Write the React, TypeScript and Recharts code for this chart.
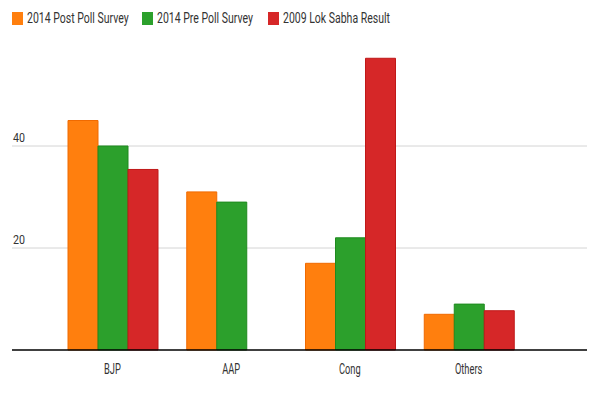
import { BarChart, Bar, XAxis, YAxis, CartesianGrid } from 'recharts';

const parties = ['BJP', 'AAP', 'Cong', 'Others'];
const postPoll2014 = [45, 31, 17, 7];
const prePoll2014 = [40, 29, 22, 9];
const result2009 = [35.4, 0, 57.2, 7.7];
const yTicks = [20, 40];

const series = [
  { key: 'post', name: '2014 Post Poll Survey', fill: '#ff7f0e', stroke: '#f06a00' },
  { key: 'pre', name: '2014 Pre Poll Survey', fill: '#2ca02c', stroke: '#1f8a1f' },
  { key: 'lok', name: '2009 Lok Sabha Result', fill: '#d62728', stroke: '#c01818' },
];

const data = parties.map((party, i) => ({
  party,
  post: postPoll2014[i],
  pre: prePoll2014[i],
  lok: result2009[i] || null,
}));

const font = 'Roboto, "Liberation Sans", sans-serif';

function YTick(props: any) {
  const { y, payload } = props;
  return (
    <g transform={`translate(13,${y - 4.5})`}>
      <text x={0} y={0} transform="scale(0.82,1)" fill="#333" fontSize={13} fontFamily={font}>
        {payload.value}
      </text>
    </g>
  );
}

function XTick(props: any) {
  const { x, payload } = props;
  return (
    <g transform={`translate(${x - 1},374)`}>
      <text x={0} y={0} transform="scale(0.62,1)" textAnchor="middle" fill="#333" fontSize={15} fontFamily={font}>
        {payload.value}
      </text>
    </g>
  );
}

export default function App() {
  return (
    <div style={{ position: 'absolute', left: 0, top: 0, width: 600, height: 400, background: '#fff' }}>
      <div style={{ position: 'absolute', left: 12, top: 10, display: 'flex', fontFamily: font, fontSize: 14, color: '#333' }}>
        {series.map((s, i) => (
          <div key={s.key} style={{ display: 'flex', alignItems: 'center', width: i === 0 ? 130 : 126 }}>
            <span style={{ width: 11, height: 13, background: s.fill, display: 'inline-block', marginRight: 4, flex: 'none' }} />
            <span style={{ display: 'inline-block', transform: 'scaleX(0.75)', transformOrigin: 'left center', whiteSpace: 'nowrap' }}>{s.name}</span>
          </div>
        ))}
      </div>
      <BarChart
        width={600}
        height={400}
        data={data}
        margin={{ top: 44, right: 13, bottom: 0, left: 12 }}
        barGap={0}
        barCategoryGap={14}
      >
        <CartesianGrid vertical={false} stroke="#d4d4d4" horizontalValues={yTicks} />
        <YAxis
          width={1}
          mirror
          domain={[0, 60]}
          ticks={yTicks}
          axisLine={false}
          tickLine={false}
          tick={YTick}
        />
        <XAxis
          dataKey="party"
          height={50}
          padding={{ left: 42, right: 58 }}
          axisLine={{ stroke: '#000', strokeWidth: 1.5 }}
          tickLine={false}
          tick={XTick}
        />
        {series.map((s) => (
          <Bar
            key={s.key}
            dataKey={s.key}
            name={s.name}
            fill={s.fill}
            stroke={s.stroke}
            strokeWidth={1}
            isAnimationActive={false}
          />
        ))}
      </BarChart>
    </div>
  );
}
